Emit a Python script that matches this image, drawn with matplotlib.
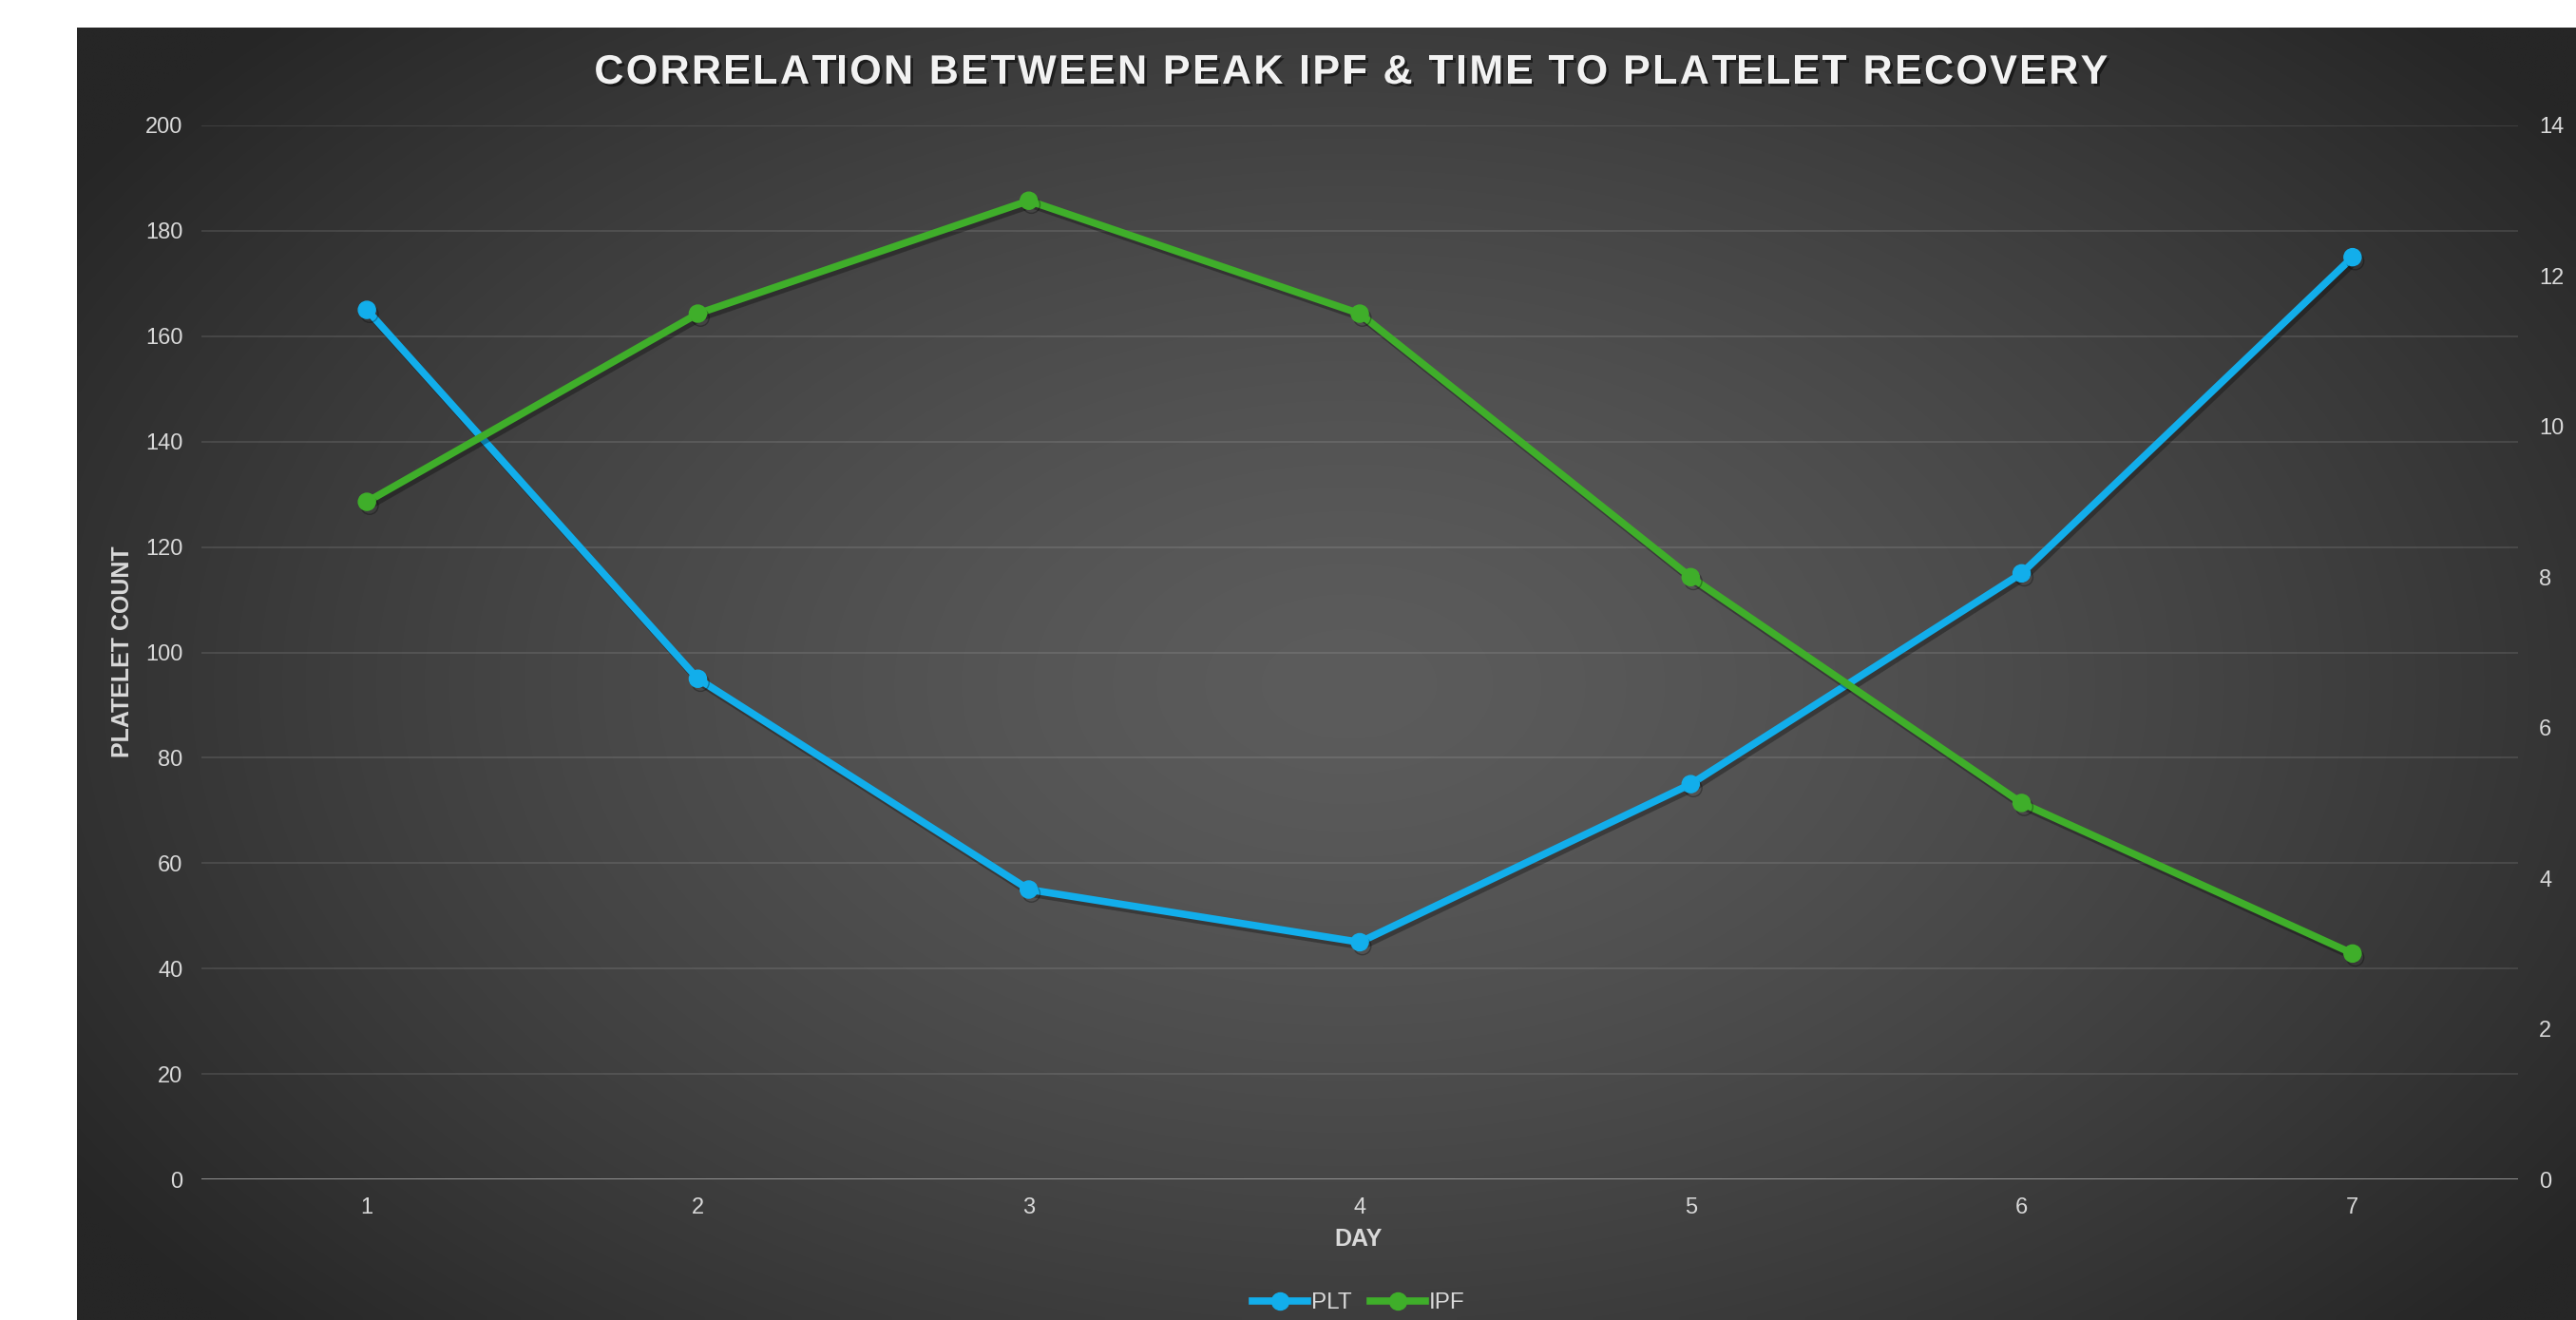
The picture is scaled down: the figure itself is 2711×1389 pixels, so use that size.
import numpy as np
import matplotlib
matplotlib.use("Agg")
import matplotlib.pyplot as plt
import matplotlib.patheffects as pe
from matplotlib.lines import Line2D
from matplotlib.font_manager import FontProperties

plt.rcParams['font.family'] = ['Liberation Sans', 'DejaVu Sans']

# data
days = [1, 2, 3, 4, 5, 6, 7]
plt_count = [165, 95, 55, 45, 75, 115, 175]
ipf = [9, 11.5, 13, 11.5, 8, 5, 3]
title = 'CORRELATION BETWEEN PEAK IPF & TIME TO PLATELET RECOVERY'

W, H = 2711, 1389
fig = plt.figure(figsize=(W / 100, H / 100), dpi=100)
fig.patch.set_facecolor('white')

# dark panel with radial gradient
px0, py0 = 81, 29
bg = fig.add_axes([px0 / W, 0, 1 - px0 / W, 1 - py0 / H])
xx, yy = np.meshgrid(np.linspace(px0, W, 400), np.linspace(py0, H, 220))
r = np.sqrt(((xx - 1420) / 1600) ** 2 + ((yy - 720) / 1000) ** 2)
val = 92 - 54 * np.clip(r, 0, 1) ** 1.4
img = np.dstack([val, val, val]) / 255
bg.imshow(img, extent=[0, 1, 0, 1], aspect='auto', interpolation='bilinear')
bg.set_axis_off()

x0, x1 = 212 / W, 2650 / W
y0, y1 = 1 - 1241 / H, 1 - 132 / H
ax = fig.add_axes([x0, y0, x1 - x0, y1 - y0])
ax.patch.set_alpha(0)
ax2 = ax.twinx()

txt = '#d9d9d9'
shadow = [pe.SimpleLineShadow(offset=(2, -3), shadow_color='black', alpha=0.3), pe.Normal()]

ax.plot(days, plt_count, color='#12aeeb', lw=5.5, marker='o', ms=13, zorder=5,
        path_effects=shadow)
ax2.plot(days, ipf, color='#3fae2a', lw=5.5, marker='o', ms=13, zorder=5,
         path_effects=shadow)

ax.set_xlim(0.5, 7.5)
ax.set_ylim(0, 200)
ax.set_yticks(range(0, 201, 20))
ax2.set_ylim(0, 14)
ax2.set_yticks(range(0, 15, 2))
ax.set_xticks(days)

ax.grid(axis='y', color='white', alpha=0.1, lw=1.5)
ax.set_axisbelow(True)
for a in (ax, ax2):
    for s in a.spines.values():
        s.set_visible(False)
ax.axhline(0, color='#9a9a9a', lw=2, zorder=3)

ax.tick_params(axis='both', length=0, labelsize=17, colors=txt)
ax.tick_params(axis='y', pad=14)
ax.tick_params(axis='x', pad=14)
ax2.tick_params(axis='y', length=0, labelsize=17, colors=txt, pad=16)

fig.text(129 / W, 1 - 686 / H, 'PLATELET COUNT', rotation=90, ha='center', va='center',
         fontsize=18, fontweight='bold', color=txt)
fig.text(1430 / W, 1 - 1304 / H, 'DAY', ha='center', va='center',
         fontsize=18, fontweight='bold', color=txt)

# title with letter spacing
fp = FontProperties(family=['Liberation Sans'], weight='bold', size=31)
renderer = fig.canvas.get_renderer()
def tw(s):
    return renderer.get_text_width_height_descent(s, fp, ismath=False)[0] if s else 0
spacing = 2.4
total = tw(title) + spacing * (len(title) - 1)
start = 1421 - total / 2
tshadow = [pe.SimplePatchShadow(offset=(2, -2), shadow_rgbFace='black', alpha=0.5), pe.Normal()]
for i, ch in enumerate(title):
    if ch == ' ':
        continue
    xpos = start + tw(title[:i].replace(' ', '\u00a0')) + spacing * i
    fig.text(xpos / W, 1 - 77 / H, ch, ha='left', va='center', fontproperties=fp,
             color='#f2f2f2', path_effects=tshadow)

handles = [Line2D([], [], color='#12aeeb', lw=5.5, marker='o', ms=13),
           Line2D([], [], color='#3fae2a', lw=5.5, marker='o', ms=13)]
fig.legend(handles, ['PLT', 'IPF'], loc='center', bbox_to_anchor=(1430 / W, 1 - 1371 / H),
           ncol=2, frameon=False, fontsize=17.5, labelcolor=txt, handlelength=2.4,
           handletextpad=0.15, columnspacing=0.8)

fig.savefig('out.png', dpi=100)
